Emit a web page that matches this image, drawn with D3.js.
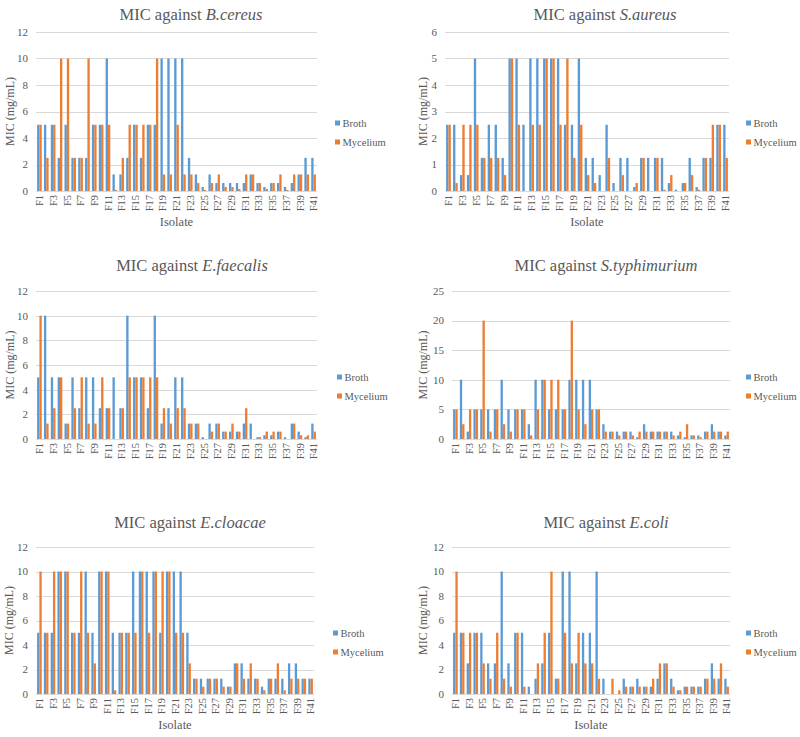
<!DOCTYPE html>
<html><head><meta charset="utf-8">
<script src="https://cdn.jsdelivr.net/npm/d3@7"></script>
<style>
html,body{margin:0;padding:0;background:#fff;}
svg{display:block;font-family:"Liberation Serif","Times New Roman",Times,serif;}
</style></head>
<body><svg id="c" width="800" height="737"></svg>
<script>
const isolates = ["F1","F2","F3","F4","F5","F6","F7","F8","F9","F10","F11","F12","F13","F14","F15","F16","F17","F18","F19","F20","F21","F22","F23","F24","F25","F26","F27","F28","F29","F30","F31","F32","F33","F34","F35","F36","F37","F38","F39","F40","F41"];
const seriesNames = ["Broth","Mycelium"];

const cereusBroth    = [5,5,5,2.5,5,2.5,2.5,2.5,5,5,10,1.25,1.25,2.5,5,2.5,5,5,10,10,10,10,2.5,1.25,0.3,1.25,0.6,0.6,0.6,0.6,0.6,1.25,0.6,0.3,0.6,0.6,0.3,0.6,1.25,2.5,2.5];
const cereusMycelium = [5,2.5,5,10,10,2.5,2.5,10,5,5,5,0.08,2.5,5,5,5,5,10,1.25,1.25,5,1.25,1.25,0.6,0.08,0.6,1.25,0.3,0.3,0.15,1.25,1.25,0.6,0.15,0.6,1.25,0.08,1.25,1.25,1.25,1.25];

const aureusBroth    = [2.5,2.5,0.6,0.6,5,1.25,2.5,2.5,1.25,5,5,2.5,5,5,5,5,5,2.5,2.5,5,1.25,1.25,0.6,2.5,0.3,1.25,1.25,0.15,1.25,1.25,1.25,1.25,0.3,0.05,0.3,1.25,0.15,1.25,1.25,2.5,2.5];
const aureusMycelium = [2.5,0.3,2.5,2.5,2.5,1.25,1.25,1.25,0.6,5,2.5,0,2.5,2.5,5,5,2.5,5,1.25,2.5,0.6,0.3,0,1.25,0,0.6,0,0.3,1.25,0,1.25,0.05,0.6,0,0.3,0.6,0.05,1.25,2.5,2.5,1.25];

const faecalisBroth    = [5,10,5,5,1.25,5,2.5,5,5,2.5,2.5,5,2.5,10,5,5,2.5,10,1.25,2.5,5,5,1.25,1.25,0.15,1.25,1.25,0.6,0.6,0.6,1.25,1.25,0.15,0.3,0.3,0.6,0.15,1.25,0.6,0.15,1.25];
const faecalisMycelium = [10,1.25,2.5,5,1.25,2.5,5,1.25,1.25,5,2.5,0,2.5,5,5,5,5,5,2.5,1.25,2.5,2.5,1.25,1.25,0,0.6,1.25,0.6,1.25,0.6,2.5,0,0.15,0.6,0.6,0.6,0,1.25,0.3,0.3,0.6];

const typhiBroth    = [5,10,1.25,5,5,5,5,10,5,5,5,2.5,10,10,5,5,5,10,10,10,10,5,2.5,1.25,1.25,1.25,1.25,0.3,2.5,1.25,1.25,1.25,1.25,0.6,0.3,0.6,0.6,1.25,2.5,1.25,0.6];
const typhiMycelium = [5,2.5,5,5,20,1.25,5,2.5,1.25,5,5,0.6,5,10,10,10,5,20,5,2.5,5,5,1.25,1.25,0.6,1.25,0.6,1.25,1.25,1.25,1.25,1.25,0.6,1.25,2.5,0.6,0.3,1.25,1.25,1.25,1.25];

const cloacaeBroth    = [5,5,5,10,10,5,5,10,5,10,10,5,5,5,10,10,10,10,5,10,10,10,5,1.25,1.25,1.25,1.25,1.25,0.6,2.5,2.5,1.25,1.25,0.6,1.25,1.25,1.25,2.5,2.5,1.25,1.25];
const cloacaeMycelium = [10,5,10,10,10,5,10,5,2.5,10,10,0.3,5,5,5,10,5,10,10,10,5,5,2.5,1.25,0.6,1.25,1.25,0.6,0.6,2.5,1.25,2.5,1.25,0.3,1.25,2.5,0.3,1.25,1.25,1.25,1.25];

const coliBroth    = [5,5,2.5,5,5,2.5,2.5,10,2.5,5,5,0.6,1.25,2.5,5,1.25,10,10,2.5,5,5,10,1.25,0,0,1.25,0.6,1.25,0.6,0.6,1.25,2.5,1.25,0.3,0.6,0.6,0.6,1.25,2.5,1.25,1.25];
const coliMycelium = [10,5,5,5,2.5,1.25,5,1.25,0.6,5,0.6,0,2.5,5,10,1.25,5,2.5,5,2.5,2.5,1.25,0,1.25,0.3,0.6,0.6,0.6,0.6,1.25,2.5,2.5,0.6,0.3,0.6,0.6,0.6,1.25,1.25,2.5,0.6];

const ticks12 = [0,2,4,6,8,10,12];
const ticks6  = [0,1,2,3,4,5,6];
const ticks25 = [0,5,10,15,20,25];

const species = ["B.cereus","S.aureus","E.faecalis","S.typhimurium","E.cloacae","E.coli"];

const colors = {Broth:"#5B9BD5", Mycelium:"#ED7D31"};
const textCol = "#595959";

const panels = [
  {sp:species[0], b:cereusBroth,   m:cereusMycelium,   ticks:ticks12, L:36,  R:317, T:32,  B:191, tx:191, ty:20,  lx:335, ly:123, ylx:10,  iso:true},
  {sp:species[1], b:aureusBroth,   m:aureusMycelium,   ticks:ticks6,  L:445, R:729, T:32,  B:191, tx:605, ty:20,  lx:746, ly:123, ylx:423, iso:true},
  {sp:species[2], b:faecalisBroth, m:faecalisMycelium, ticks:ticks12, L:36,  R:317, T:291, B:439, tx:192, ty:271, lx:337, ly:377, ylx:10,  iso:false},
  {sp:species[3], b:typhiBroth,    m:typhiMycelium,    ticks:ticks25, L:452, R:730, T:291, B:439, tx:606, ty:271, lx:746, ly:377, ylx:423, iso:false},
  {sp:species[4], b:cloacaeBroth,  m:cloacaeMycelium,  ticks:ticks12, L:36,  R:314, T:547, B:694, tx:190, ty:528, lx:333, ly:633, ylx:9,   iso:true},
  {sp:species[5], b:coliBroth,     m:coliMycelium,     ticks:ticks12, L:452, R:730, T:547, B:694, tx:606, ty:528, lx:746, ly:633, ylx:423, iso:true}
];

const svg = d3.select("#c");

panels.forEach(p => {
  const g = svg.append("g");
  const x0 = d3.scaleBand().domain(isolates).range([p.L, p.R]).paddingInner(0.32).paddingOuter(0.16);
  const x1 = d3.scaleBand().domain(seriesNames).range([0, x0.bandwidth()]);
  const y = d3.scaleLinear().domain([0, d3.max(p.ticks)]).range([p.B, p.T]);

  g.append("g").selectAll("line").data(p.ticks).join("line")
    .attr("x1", p.L).attr("x2", p.R)
    .attr("y1", d => Math.round(y(d)) + 0.5).attr("y2", d => Math.round(y(d)) + 0.5)
    .attr("stroke", "#D9D9D9").attr("stroke-width", 1);

  g.append("g").selectAll("text").data(p.ticks).join("text")
    .attr("x", p.L - 8).attr("y", d => y(d)).attr("dy", "0.35em")
    .attr("text-anchor", "end").attr("font-size", 11).attr("fill", textCol)
    .text(d => d);

  const rows = isolates.map((c, i) => ({c, vals: [{s:"Broth", v:p.b[i]}, {s:"Mycelium", v:p.m[i]}]}));
  g.append("g").selectAll("g").data(rows).join("g")
    .attr("transform", d => `translate(${x0(d.c)},0)`)
    .selectAll("rect").data(d => d.vals).join("rect")
    .attr("x", d => x1(d.s)).attr("width", x1.bandwidth())
    .attr("y", d => y(d.v)).attr("height", d => p.B - y(d.v))
    .attr("fill", d => colors[d.s]);

  const xl = isolates.filter((d, i) => i % 2 === 0);
  g.append("g").selectAll("text").data(xl).join("text")
    .attr("transform", d => `translate(${x0(d) + x0.bandwidth()/2},${p.B + 4}) rotate(-90)`)
    .attr("dy", "0.35em").attr("text-anchor", "end")
    .attr("font-size", 10.5).attr("fill", textCol)
    .text(d => d);

  const t = g.append("text").attr("x", p.tx).attr("y", p.ty).attr("text-anchor", "middle")
    .attr("font-size", 16.5).attr("fill", textCol);
  t.append("tspan").text("MIC against ");
  t.append("tspan").attr("font-style", "italic").text(p.sp);

  g.append("text").attr("transform", `translate(${p.ylx},${(p.T + p.B)/2}) rotate(-90)`)
    .attr("dy", "0.35em").attr("text-anchor", "middle").attr("font-size", 12).attr("fill", textCol)
    .text("MIC (mg/mL)");

  if (p.iso) {
    g.append("text").attr("x", (p.L + p.R)/2).attr("y", p.B + 35)
      .attr("text-anchor", "middle").attr("font-size", 12.5).attr("fill", textCol).text("Isolate");
  }

  const lg = g.append("g").selectAll("g").data(seriesNames).join("g")
    .attr("transform", (d, i) => `translate(${p.lx},${p.ly + i*19})`);
  lg.append("rect").attr("x", 0).attr("y", -2.5).attr("width", 5).attr("height", 5).attr("fill", d => colors[d]);
  lg.append("text").attr("x", 7.5).attr("dy", "0.35em").attr("font-size", 10.5).attr("fill", textCol).text(d => d);
});
</script></body></html>
